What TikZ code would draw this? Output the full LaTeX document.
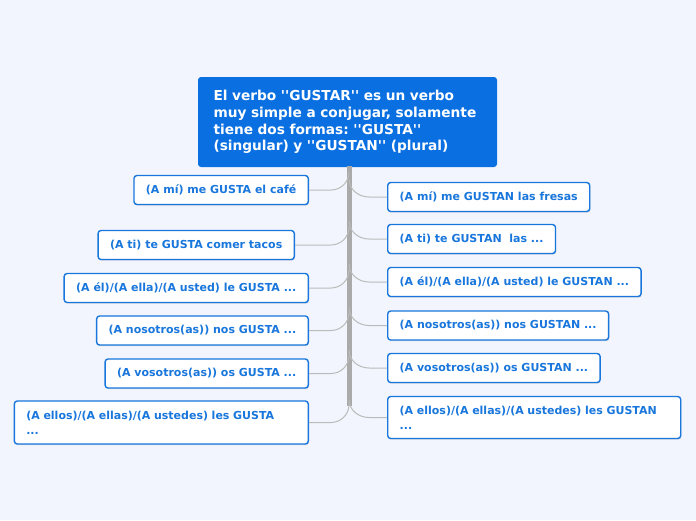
\documentclass[tikz,border=0pt]{standalone}
\usepackage{fontspec}
\setmainfont{DejaVu Sans}[Ligatures=TeXOff]
\usetikzlibrary{shadows}

\definecolor{bgpage}{RGB}{242,245,253}
\definecolor{mainblue}{RGB}{10,112,226}
\definecolor{leafblue}{RGB}{24,118,220}
\definecolor{trunkgray}{RGB}{170,170,170}

\tikzset{
  topic/.style={fill=mainblue, rounded corners=3pt, text=white, font=\fontsize{13.7}{16.6}\selectfont\bfseries, align=left, inner xsep=15.5pt, minimum height=90pt, text width=268pt},
  leaf/.style={draw=leafblue, line width=1.4pt, fill=white, rounded corners=3pt, text=leafblue, font=\fontsize{11}{15}\selectfont\bfseries, align=left, inner xsep=12pt, minimum height=29pt, drop shadow={opacity=0.25, shadow xshift=0.6pt, shadow yshift=-1.2pt}},
  branch/.style={draw=trunkgray!80, line width=1pt},
}

\begin{document}
\frenchspacing
\begin{tikzpicture}[x=1pt, y=-1pt]
\fill[bgpage] (0,0) rectangle (696,520);
\useasboundingbox (0,0) rectangle (696,520);

\node[topic] (verbo) at (347.5,122) {El verbo ''GUSTAR'' es un verbo\\muy simple a conjugar, solamente\\tiene dos formas: ''GUSTA''\\(singular) y ''GUSTAN'' (plural)};

\coordinate (top) at (349,166); \coordinate (bot) at (349,406);
\draw[trunkgray, line width=5pt] (top) -- (bot);

% GUSTA
\node[leaf, anchor=east] (gusta1) at (309,190) {(A mí) me GUSTA el café};
\node[leaf, anchor=east] (gusta2) at (295,245) {(A ti) te GUSTA comer tacos};
\node[leaf, anchor=east] (gusta3) at (309,288) {(A él)/(A ella)/(A usted) le GUSTA ...};
\node[leaf, anchor=east] (gusta4) at (309,330.5) {(A nosotros(as)) nos GUSTA ...};
\node[leaf, anchor=east] (gusta5) at (309,373.5) {(A vosotros(as)) os GUSTA ...};
\node[leaf, anchor=east, text width=270pt, minimum height=43pt] (gusta6) at (309,422.5) {(A ellos)/(A ellas)/(A ustedes) les GUSTA\\...};

% GUSTAN
\node[leaf, anchor=west] (gustan1) at (387,197) {(A mí) me GUSTAN las fresas};
\node[leaf, anchor=west] (gustan2) at (387,239) {(A ti) te GUSTAN\ \ las ...};
\node[leaf, anchor=west] (gustan3) at (387,282) {(A él)/(A ella)/(A usted) le GUSTAN ...};
\node[leaf, anchor=west] (gustan4) at (387,325.5) {(A nosotros(as)) nos GUSTAN ...};
\node[leaf, anchor=west] (gustan5) at (387,368) {(A vosotros(as)) os GUSTAN ...};
\node[leaf, anchor=west, text width=269pt, minimum height=42pt] (gustan6) at (387,417.5) {(A ellos)/(A ellas)/(A ustedes) les GUSTAN\\...};

\foreach \n in {1,...,6} {
  \draw[branch] (gusta\n.east) -- ([xshift=-18pt]gusta\n.east -| top) to[out=0, in=-90] ([yshift=18pt]gusta\n.east -| top);
  \draw[branch] (gustan\n.west) -- ([xshift=20pt]gustan\n.west -| top) to[out=180, in=-90] ([yshift=18pt]gustan\n.west -| top);
}
\end{tikzpicture}
\end{document}
